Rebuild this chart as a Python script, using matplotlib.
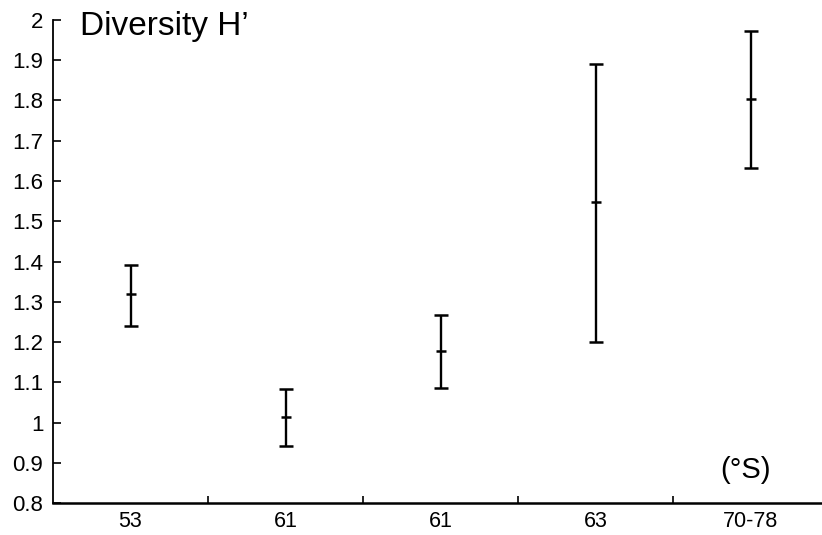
import numpy as np
import matplotlib
matplotlib.use("Agg")
import matplotlib.pyplot as plt
from matplotlib.ticker import FuncFormatter, MultipleLocator, FixedLocator

plt.rcParams["font.family"] = ["Liberation Sans", "DejaVu Sans"]

# latitude groups and diversity H' (mean with lower / upper limits)
labels = ["53", "61", "61", "63", "70-78"]
h_mean = [1.32, 1.013, 1.178, 1.549, 1.803]
h_low = [1.240, 0.942, 1.086, 1.199, 1.633]
h_high = [1.391, 1.083, 1.267, 1.890, 1.973]

x = np.arange(len(labels))
mean = np.array(h_mean)
err = [mean - np.array(h_low), np.array(h_high) - mean]

fig = plt.figure(figsize=(8.22, 5.35), dpi=100)
ax = fig.add_axes([53 / 822, 32 / 535, 769 / 822, 483 / 535])

ax.errorbar(x, mean, yerr=err, fmt="_", color="black", ms=7, mew=1.8,
            elinewidth=1.7, capsize=5, capthick=1.8)

ax.set_xlim(-0.5, -0.5 + 769 / 155)
ax.set_ylim(0.8, 2.0)

ax.yaxis.set_major_locator(MultipleLocator(0.1))
ax.yaxis.set_major_formatter(FuncFormatter(lambda v, p: "%g" % round(v, 1)))
ax.tick_params(axis="y", direction="in", length=6, width=1.2, labelsize=16, pad=7)

ax.set_xticks(x)
ax.set_xticklabels(labels)
ax.xaxis.set_minor_locator(FixedLocator(x[:-1] + 0.5))
ax.tick_params(axis="x", which="major", length=0, labelsize=15.5, pad=6)
ax.tick_params(axis="x", which="minor", direction="in", length=5, width=1.2)

for s in ["top", "right"]:
    ax.spines[s].set_visible(False)
ax.spines["left"].set_linewidth(1.3)
ax.spines["bottom"].set_linewidth(1.8)

ax.text(27 / 769, 0.969, "Diversity H\u2019", transform=ax.transAxes,
        fontsize=24, va="baseline", ha="left")
ax.text(0.9, 0.052, "(\u00b0S)", transform=ax.transAxes,
        fontsize=21, va="baseline", ha="center")

fig.savefig("out.png", dpi=100)
